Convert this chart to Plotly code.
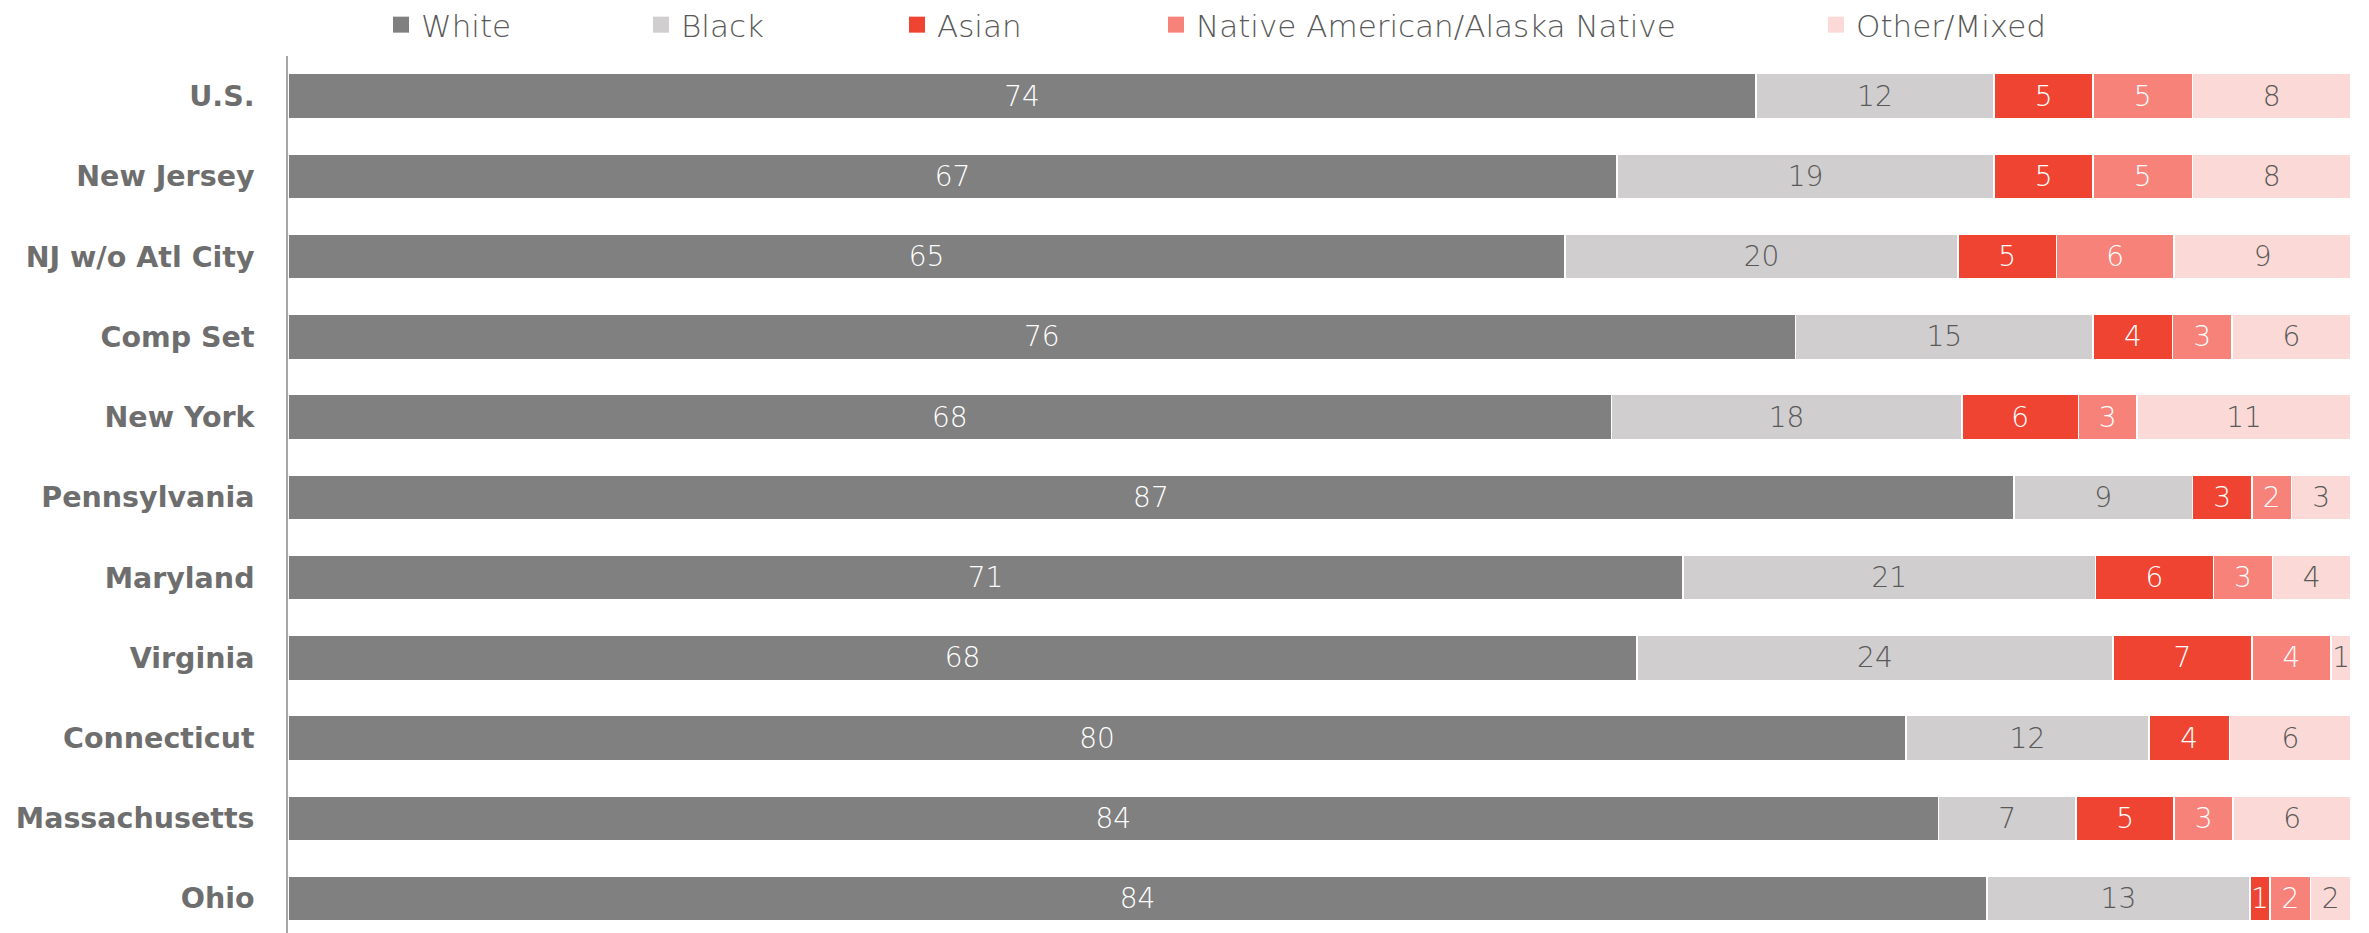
import plotly.graph_objects as go

categories = ["U.S.", "New Jersey", "NJ w/o Atl City", "Comp Set", "New York", "Pennsylvania",
              "Maryland", "Virginia", "Connecticut", "Massachusetts", "Ohio"]
white = [74, 67, 65, 76, 68, 87, 71, 68, 80, 84, 84]
black = [12, 19, 20, 15, 18, 9, 21, 24, 12, 7, 13]
asian = [5, 5, 5, 4, 6, 3, 6, 7, 4, 5, 1]
native = [5, 5, 6, 3, 3, 2, 3, 4, None, 3, 2]
other = [8, 8, 9, 6, 11, 3, 4, 1, 6, 6, 2]

series_names = ["White", "Black", "Asian", "Native American/Alaska Native", "Other/Mixed"]
series_values = [white, black, asian, native, other]
colors = ["#808080", "#D0CECE", "#EF4431", "#F6827A", "#FBD9D6"]
text_colors = ["#FFFFFF", "#595959", "#FFFFFF", "#FFFFFF", "#595959"]

# page offset: the browser body has an 8px margin
OFF = 8
legend_centers_px = [401, 661, 917, 1176, 1836]

W, H = 2369 - OFF, 933 - OFF
LABEL_FONT = "DejaVu Sans"

fig = go.Figure()
for i, (name, vals) in enumerate(zip(series_names, series_values)):
    fig.add_trace(go.Bar(
        y=categories, x=vals, name=name, orientation="h",
        marker=dict(color=colors[i], line=dict(color="#FFFFFF", width=1.5)),
        text=[("" if v is None else str(v)) for v in vals],
        texttemplate="%{text}",
        textposition="inside", insidetextanchor="middle",
        constraintext="none",
        textfont=dict(family=LABEL_FONT, size=28, color=text_colors[i], weight=200),
        showlegend=False, hoverinfo="skip",
    ))
    lg = "legend" if i == 0 else f"legend{i+1}"
    fig.add_trace(go.Scatter(
        x=[None], y=[None], mode="markers", name=name,
        marker=dict(symbol="square", size=18, color=colors[i]),
        legend=lg, showlegend=True,
    ))

layout_legends = {}
for i in range(5):
    lg = "legend" if i == 0 else f"legend{i+1}"
    layout_legends[lg] = dict(
        x=(legend_centers_px[i] - OFF - 20) / W, xref="container", xanchor="left",
        y=1 - (25 - OFF) / H, yref="container", yanchor="middle",
        orientation="h", bgcolor="rgba(0,0,0,0)", borderwidth=0,
        font=dict(family=LABEL_FONT, size=31, color="#595959", weight=200),
        itemsizing="trace",
    )

fig.update_layout(
    width=W, height=H,
    barmode="stack", barnorm="percent", bargap=0.44,
    plot_bgcolor="#FFFFFF", paper_bgcolor="#FFFFFF",
    margin=dict(l=288 - OFF, r=18, t=48.4, b=0, pad=0, autoexpand=False),
    uniformtext=dict(mode="show", minsize=10),
    **layout_legends,
)
fig.update_xaxes(visible=False, range=[0, 100], fixedrange=True)
fig.update_yaxes(
    type="category", categoryorder="array", categoryarray=categories,
    range=[10.43, -0.5], automargin=False,
    showline=True, linecolor="#A6A6A6", linewidth=1.5,
    showgrid=False, zeroline=False, ticks="",
    ticklabelstandoff=26,
    tickfont=dict(family="DejaVu Sans", size=28.5, color="#6E6E6E", weight="bold"),
)

fig.write_html("out.html")
